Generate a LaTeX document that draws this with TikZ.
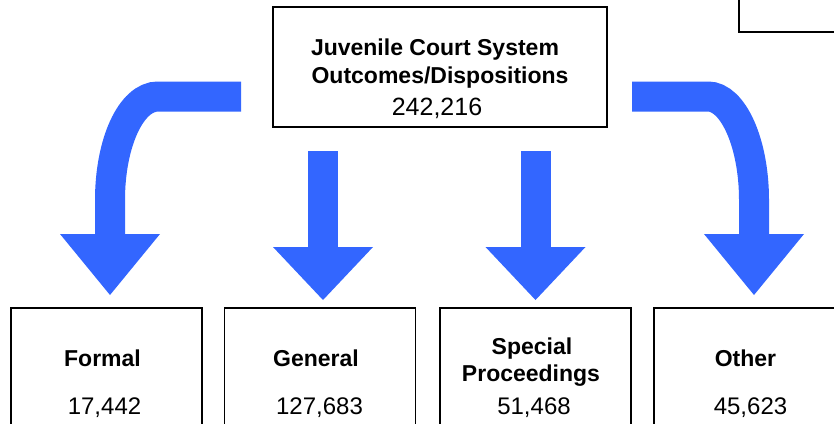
\documentclass[tikz,border=0pt]{standalone}
\usepackage{fontspec}
\setmainfont{Liberation Sans}
\usetikzlibrary{arrows.meta}
\definecolor{arrowblue}{RGB}{51,102,255}
\tikzset{
  box/.style={draw,line width=1.5pt,minimum width=191pt,minimum height=140pt,inner sep=0pt},
  head/.style={font=\fontsize{23}{28}\selectfont\bfseries,anchor=base,inner sep=0pt},
  count/.style={font=\fontsize{24}{28}\selectfont,anchor=base,inner sep=0pt},
  bluearrow/.style={draw=arrowblue,line width=30pt,-{Triangle[width=100pt,length=#1,line width=0pt]}},
  bluearrow/.default=53pt
}

\begin{document}
\begin{tikzpicture}[x=1pt,y=-1pt]
\useasboundingbox (0,0) rectangle (834,423);
\clip (0,0) rectangle (834,423);
\coordinate (Fs) at (241,96.5);
\coordinate (Fb) at (158,96.5);
\coordinate (Fc) at (110,200);
\coordinate (Fe) at (110,295);
\coordinate (Gs) at (323,151);
\coordinate (Ge) at (323,300);
\coordinate (Ss) at (535.5,151);
\coordinate (Se) at (535.5,300);
\coordinate (Os) at (632,96.5);
\coordinate (Ob) at (708,96.5);
\coordinate (Oc) at (754,200);
\coordinate (Oe) at (754,295);
\draw[bluearrow=61pt] (Fs) -- (Fb) .. controls (131,96.5) and (110,143) .. (Fc) -- (Fe);
\draw[bluearrow] (Gs) -- (Ge);
\draw[bluearrow] (Ss) -- (Se);
\draw[bluearrow=61pt] (Os) -- (Ob) .. controls (733,96.5) and (754,143) .. (Oc) -- (Oe);
\node[box,minimum width=334pt,minimum height=120pt] (court) at (440,67) {};
\node[box,minimum width=200pt,minimum height=80pt] (corner) at (839,-8) {};
\node[box] (formal) at (106.5,378) {};
\node[box] (general) at (320,378) {};
\node[box] (special) at (535.5,378) {};
\node[box] (other) at (749.5,378) {};
\node[head] (courtA) at (435,55) {Juvenile Court System};
\node[head] (courtB) at (440,83.3) {Outcomes/Dispositions};
\node[count,font=\fontsize{25}{28}\selectfont] (courtN) at (437,115) {242,216};
\node[head] (formalT) at (102.5,366.5) {Formal};
\node[count] (formalN) at (104.5,414) {17,442};
\node[head] (generalT) at (316,366.5) {General};
\node[count] (generalN) at (319.5,414) {127,683};
\node[head] (specialA) at (532,354) {Special};
\node[head] (specialB) at (531,381.7) {Proceedings};
\node[count] (specialN) at (534,414) {51,468};
\node[head] (otherT) at (745.5,366.5) {Other};
\node[count] (otherN) at (750.5,414) {45,623};
\end{tikzpicture}
\end{document}
